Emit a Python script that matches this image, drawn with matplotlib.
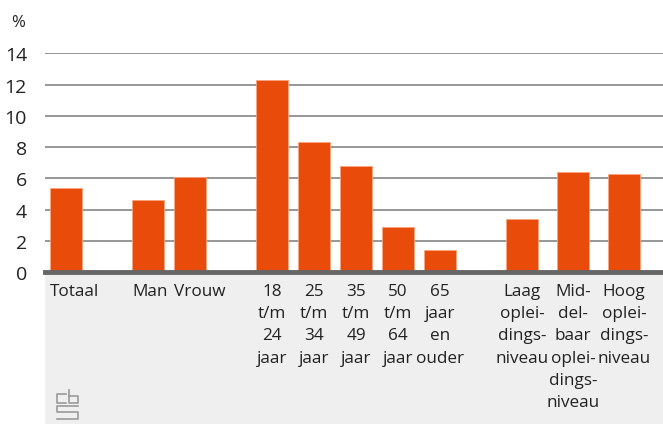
import matplotlib.pyplot as plt
from matplotlib.patches import Rectangle
from matplotlib.lines import Line2D
from matplotlib import transforms

plt.rcParams['font.family'] = ['Open Sans', 'DejaVu Sans']

labels = ['Totaal', 'Man', 'Vrouw',
          '18\nt/m\n24\njaar', '25\nt/m\n34\njaar', '35\nt/m\n49\njaar',
          '50\nt/m\n64\njaar', '65\njaar\nen\nouder',
          'Laag\noplei-\ndings-\nniveau', 'Mid-\ndel-\nbaar\noplei-\ndings-\nniveau',
          'Hoog\noplei-\ndings-\nniveau']
values = [5.4, 4.6, 6.1, 12.3, 8.3, 6.8, 2.9, 1.4, 3.4, 6.4, 6.3]
group_sizes = [1, 2, 5, 3]
yticks = [0, 2, 4, 6, 8, 10, 12, 14]

W, H = 663, 427
orange = '#e94c0a'

# x positions in pixels: fixed step inside a group, bigger jump between groups
steps = [42, 42, 42, 51]
xs = []
x = 66
for g, n in enumerate(group_sizes):
    for i in range(n):
        xs.append(x)
        x += steps[g]
    x += 82 - steps[g]

fig = plt.figure(figsize=(W / 100, H / 100), dpi=100)
fig.patches.append(Rectangle((45 / W, 2 / H), 1 - 45 / W, (H - 277) / H,
                             transform=fig.transFigure, facecolor='#efefef',
                             edgecolor='none', zorder=-1))

ax = fig.add_axes([45 / W, (H - 273) / H, (W - 45) / W, (273 - 54.3) / H])
ax.set_zorder(1)
ax.set_xlim(45, W)
ax.set_ylim(0, 14)
ax.set_facecolor('white')

ax.bar(xs, values, width=32, color=orange, edgecolor='#f7a57f', linewidth=0.6, zorder=3)

for v in yticks[1:]:
    ax.axhline(v, color='#7a7a7a', linewidth=1.1, zorder=1)
ax.axhline(0, color='#666666', linewidth=3.5, zorder=4, clip_on=False)

for s in ax.spines.values():
    s.set_visible(False)
ax.set_xticks([])
ax.set_yticks(yticks)
ax.tick_params(axis='y', length=0, pad=13, labelsize=14, labelcolor='#222222')

fig.text(11 / W, (H - 27) / H, '%', fontsize=12, color='#222222')

trans = transforms.blended_transform_factory(ax.transData, fig.transFigure)
for xpos, lab in zip(xs, labels):
    if '\n' in lab:
        ax.text(xpos, (H - 284) / H, lab, transform=trans, ha='center', va='top',
                multialignment='center', fontsize=12.3, linespacing=1.52, color='#222222')
    else:
        ax.text(xpos - 16, (H - 284) / H, lab, transform=trans, ha='left', va='top',
                fontsize=12.3, color='#222222')

# small cbs logo in the corner
def seg(px, py, **kw):
    fig.add_artist(Line2D([p / W for p in px], [(H - p) / H for p in py],
                          transform=fig.transFigure, color='#9a9a9a', linewidth=1.2, **kw))

seg([66, 57, 57, 66], [395, 395, 404, 404])
seg([69, 69, 78, 78, 69], [391, 404, 404, 397, 397])
seg([78, 57, 57, 78, 78, 57], [407, 407, 413, 413, 420, 420])

fig.savefig('out.png', dpi=100)
